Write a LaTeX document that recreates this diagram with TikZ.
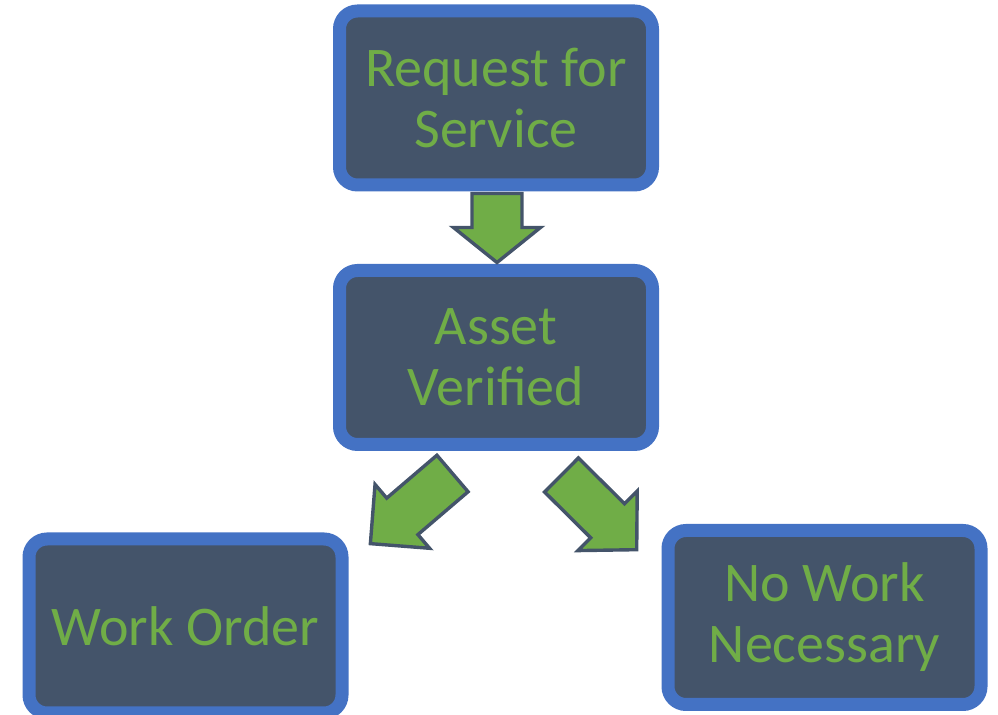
\documentclass[tikz,border=0pt]{standalone}
\usepackage{fontspec}
\setmainfont{Carlito}
\usepackage{xcolor}
\usetikzlibrary{calc}

\definecolor{boxblue}{HTML}{4472C4}
\definecolor{boxdark}{HTML}{44546A}
\definecolor{boxgreen}{HTML}{70AD47}

\begin{document}
\begin{tikzpicture}[x=0.5pt,y=-0.5pt,
		stepbox/.style={draw=boxblue, fill=boxdark, line width=6.5pt, rounded corners=9pt,
			minimum width=156.5pt, minimum height=87pt, inner sep=0pt, align=center,
			text=boxgreen, font=\fontsize{28}{30.5}\selectfont},
		blockarrow/.style={draw=boxdark, fill=boxgreen, line width=1.7pt, line join=miter}]
		\useasboundingbox (0,0) rectangle (998,715);
		\node[stepbox] (req) at (496,98) {Request for\\Service};
		\node[stepbox] (ver) at (496,357.5) {Asset\\Verified};
		\node[stepbox] (wo) at (185.5,626) {Work Order};
		\node[stepbox] (nw) at (824.5,617.5) {No Work\\Necessary};
		% block arrows
		\draw [blockarrow, shift={($(req.south)+(1,2)$)}, rotate=-90]
			(0,-25) -- (34,-25) -- (34,-43.5) -- (69,0) -- (34,43.5) -- (34,25) -- (0,25) -- cycle;
		\draw [blockarrow, shift={($(ver.south)+(-43.5,22.5)$)}, rotate=220.5]
			(0,-24) -- (66,-24) -- (66,-42) -- (108,0) -- (66,42) -- (66,24) -- (0,24) -- cycle;
		\draw [blockarrow, shift={($(ver.south)+(65.5,24)$)}, rotate=-44.8]
			(0,-24) -- (65,-24) -- (65,-42) -- (106,0) -- (65,42) -- (65,24) -- (0,24) -- cycle;
	\end{tikzpicture}
\end{document}
